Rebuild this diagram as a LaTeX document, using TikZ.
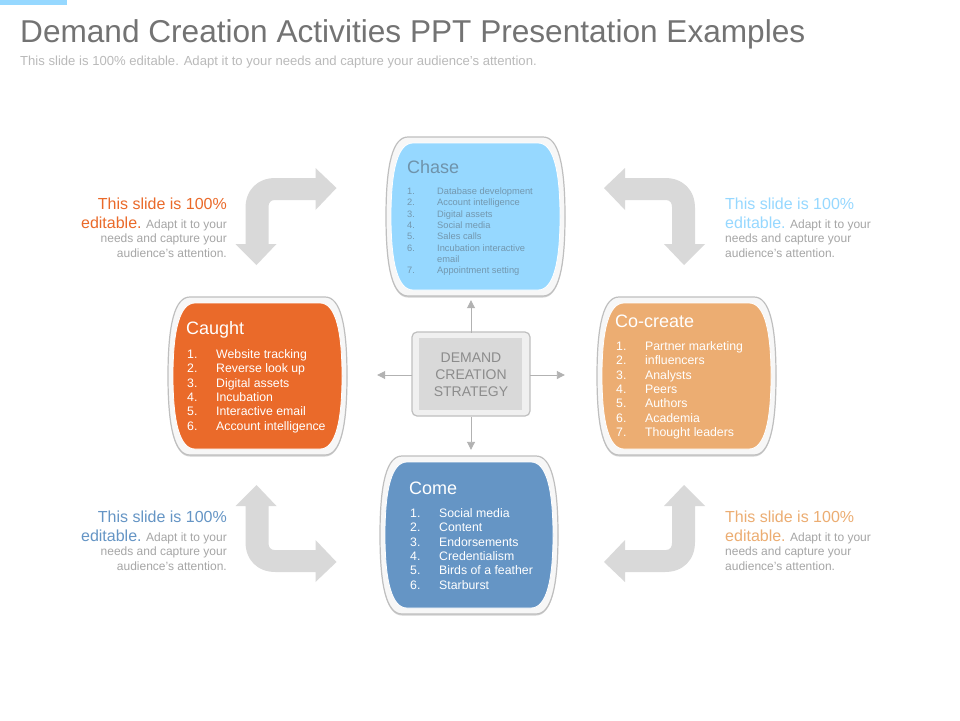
\documentclass[tikz,border=0pt]{standalone}
\usepackage{fontspec}
\setmainfont{Liberation Sans}
\usepackage{array}
\usetikzlibrary{arrows.meta}
\definecolor{chasec}{HTML}{96D8FF}
\definecolor{caughtc}{HTML}{EA6A2A}
\definecolor{cocreatec}{HTML}{ECAD72}
\definecolor{comec}{HTML}{6595C5}
\definecolor{bentc}{HTML}{D9D9D9}
\definecolor{greytx}{HTML}{A6A6A6}
\definecolor{titletx}{HTML}{737373}
\definecolor{chasetx}{HTML}{6F93AB}
\definecolor{chaselist}{HTML}{7397AE}
\newcommand{\barrelpath}[4]{(#1+22,#3) -- (#2-22,#3) .. controls (#2-7,#3) and (#2,#3+26) .. (#2,{(#3+#4)/2}) .. controls (#2,#4-26) and (#2-7,#4) .. (#2-22,#4) -- (#1+22,#4) .. controls (#1+7,#4) and (#1,#4-26) .. (#1,{(#3+#4)/2}) .. controls (#1,#3+26) and (#1+7,#3) .. (#1+22,#3) -- cycle}
\newcommand{\barrelbox}[6]{%
  \fill[black!18] \barrelpath{#2}{#3}{#4+1.5}{#5+1.5};
  \filldraw[fill=black!3,draw=black!25,line width=1.2pt] \barrelpath{#2}{#3}{#4}{#5};
  \filldraw[fill=#6,draw=white,line width=.8pt] \barrelpath{#2+5}{#3-5}{#4+6}{#5-6};
  \node[boxanchor,minimum width={(#3-(#2))*1pt},minimum height={(#5-(#4))*1pt}] (#1) at ({(#2+#3)/2},{(#4+#5)/2}) {};
}
\newcommand{\bentshape}{(133,-187) -- (154,-207) -- (154,-197) -- (194,-197) .. controls (212,-197) and (224,-185) .. (224,-167) -- (224,-131) -- (234,-131) -- (213,-110) -- (193,-131) -- (201,-131) -- (201,-168) .. controls (201,-172) and (199,-175) .. (195,-175) -- (154,-175) -- (154,-165) -- cycle}
\tikzset{
  boxanchor/.style={inner sep=0pt,draw=none},
  bent/.style={fill=bentc},
  boxhead/.style={anchor=base west,inner sep=0pt,font=\fontsize{18}{20}\selectfont},
  boxlist/.style={anchor=north west,inner sep=0pt},
  spoke/.style={draw=black!30,line width=.9pt,-{Triangle[width=8pt,length=8pt]}},
  sidenote/.style={inner sep=0pt,font=\fontsize{12}{14.5}\selectfont,text=greytx},
}
\newcommand{\biglead}[2]{{\fontsize{16}{19}\selectfont\color{#1}#2}}
\begin{document}
\begin{tikzpicture}[x=1pt,y=-1pt]
\useasboundingbox (0,0) rectangle (960,720);
\fill[white] (0,0) rectangle (960,720);
\fill[chasec] (0,0) rectangle (67,5);
\node[anchor=base west,inner sep=0pt,text=titletx,font=\fontsize{31.6}{36}\selectfont] (title) at (20,42) {Demand Creation Activities PPT Presentation Examples};
\node[anchor=base west,inner sep=0pt,text=black!27,font=\fontsize{13.1}{15}\selectfont] (subtitle) at (20,65.5) {This slide is 100\% editable. Adapt it to your needs and capture your audience's attention.};
\begin{scope}[shift={(471,375)}]
  \fill[bent] \bentshape;
  \fill[bent,yscale=-1] \bentshape;
\end{scope}
\begin{scope}[shift={(469.5,375)},xscale=-1]
  \fill[bent] \bentshape;
  \fill[bent,yscale=-1] \bentshape;
\end{scope}
\barrelbox{chase}{386}{565}{137}{296}{chasec}
\barrelbox{caught}{168}{347}{297}{455}{caughtc}
\barrelbox{cocreate}{597}{776}{297}{455}{cocreatec}
\barrelbox{come}{380}{558}{456}{614}{comec}
\filldraw[fill=black!6,draw=black!25,line width=1.2pt,rounded corners=5pt] (412,332) rectangle (530,416);
\fill[bentc] (419,338) rectangle (522,410);
\node[inner sep=0pt,minimum width=118pt,minimum height=84pt,align=center,text=black!45,font=\fontsize{14}{17}\selectfont] (center) at (471,375) {DEMAND\\CREATION\\STRATEGY};
\draw[spoke,shorten >=4pt] (center.north) -- (center.north |- chase.south);
\draw[spoke,shorten >=6pt] (center.south) -- (center.south |- come.north);
\draw[spoke,shorten >=30pt] (center.west) -- (center.west -| caught.east);
\draw[spoke,shorten >=32pt] (center.east) -- (center.east -| cocreate.west);
\node[boxhead,text=chasetx] (chasehead) at (407,173) {Chase};
\node[boxlist,text=chaselist,font=\fontsize{9.3}{11.3}\selectfont] (chaselistn) at (407,186.5) {\begin{tabular}{@{}p{30pt}@{}l@{}}1.&Database development\\2.&Account intelligence\\3.&Digital assets\\4.&Social media\\5.&Sales calls\\6.&Incubation interactive\\&email\\7.&Appointment setting\end{tabular}};
\node[boxhead,text=white] (caughthead) at (186,334) {Caught};
\node[boxlist,text=white,font=\fontsize{12.3}{14.4}\selectfont] (caughtlist) at (187,348) {\begin{tabular}{@{}p{29pt}@{}l@{}}1.&Website tracking\\2.&Reverse look up\\3.&Digital assets\\4.&Incubation\\5.&Interactive email\\6.&Account intelligence\end{tabular}};
\node[boxhead,text=white] (cocreatehead) at (615,327) {Co-create};
\node[boxlist,text=white,font=\fontsize{12.3}{14.4}\selectfont] (cocreatelist) at (616,340) {\begin{tabular}{@{}p{29pt}@{}l@{}}1.&Partner marketing\\2.&influencers\\3.&Analysts\\4.&Peers\\5.&Authors\\6.&Academia\\7.&Thought leaders\end{tabular}};
\node[boxhead,text=white] (comehead) at (409,494) {Come};
\node[boxlist,text=white,font=\fontsize{12.3}{14.4}\selectfont] (comelist) at (410,507) {\begin{tabular}{@{}p{29pt}@{}l@{}}1.&Social media\\2.&Content\\3.&Endorsements\\4.&Credentialism\\5.&Birds of a feather\\6.&Starburst\end{tabular}};
\node[sidenote,anchor=north east,align=right] (tl) at (227,198) {\biglead{caughtc}{This slide is 100\%}\\[4pt]\biglead{caughtc}{editable.} Adapt it to your\\needs and capture your\\audience's attention.};
\node[sidenote,anchor=north east,align=right] (bl) at (227,511) {\biglead{comec}{This slide is 100\%}\\[4pt]\biglead{comec}{editable.} Adapt it to your\\needs and capture your\\audience's attention.};
\node[sidenote,anchor=north west,align=left] (tr) at (725,198) {\biglead{chasec}{This slide is 100\%}\\[4pt]\biglead{chasec}{editable.} Adapt it to your\\needs and capture your\\audience's attention.};
\node[sidenote,anchor=north west,align=left] (br) at (725,511) {\biglead{cocreatec}{This slide is 100\%}\\[4pt]\biglead{cocreatec}{editable.} Adapt it to your\\needs and capture your\\audience's attention.};
\end{tikzpicture}
\end{document}
